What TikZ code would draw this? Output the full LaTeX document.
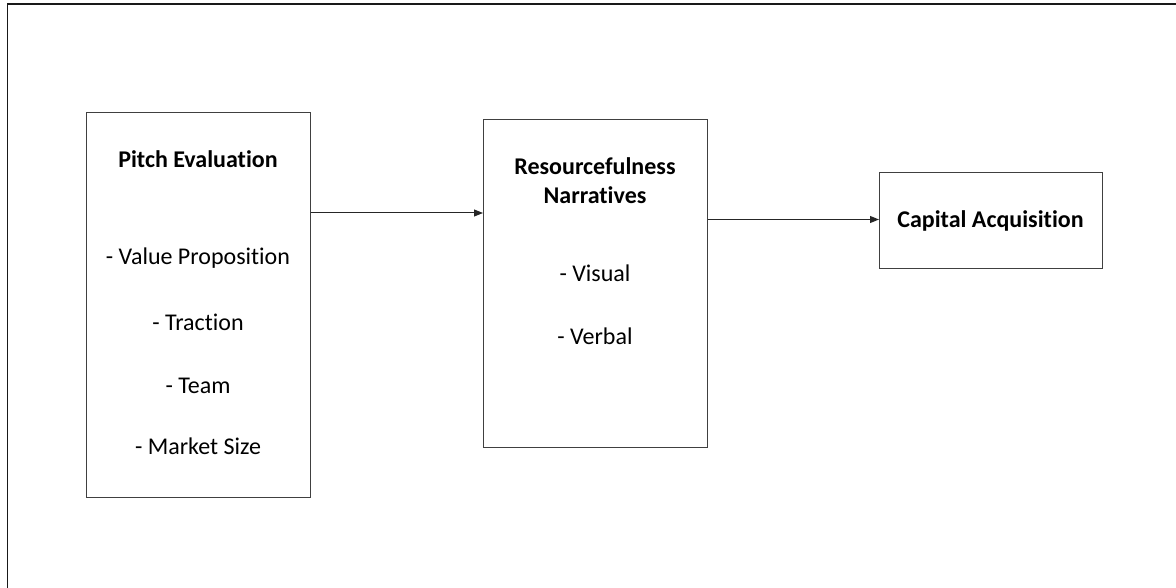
\documentclass[tikz,border=0pt]{standalone}
\usepackage{fontspec}
\setmainfont{Carlito}[RawFeature=-liga]
\usetikzlibrary{arrows.meta}
\begin{document}
\begin{tikzpicture}[x=1pt,y=-1pt,
  box/.style={draw=black!75,line width=1pt,fill=none,inner sep=0pt,anchor=north west},
  lbl/.style={anchor=base,inner sep=0pt,font=\fontsize{24}{28}\selectfont},
  hd/.style={lbl,font=\fontsize{24}{28}\selectfont\bfseries},
  arr/.style={draw=black!85,line width=1pt,-{Triangle[length=9pt,width=7pt]}},
  frame/.style={draw=black!90,line width=1.2pt}]
\useasboundingbox (0,0) rectangle (1176,588);
\coordinate (fl) at (7.5,588);
\coordinate (ft) at (7.5,4);
\coordinate (fr) at (1176,4);
\draw[frame] (fl) -- (ft) -- (fr);
% boxes
\node[box,minimum width=224pt,minimum height=385pt] (b1) at (85.5,112) {};
\node[box,minimum width=224pt,minimum height=328pt] (b2) at (483,119) {};
\node[box,minimum width=223pt,minimum height=96pt] (b3) at (879,172) {};
% texts
\node[hd] (t1) at (198,167.5) {Pitch Evaluation};
\node[lbl] (t2) at (198,264.5) {- Value Proposition};
\node[lbl] (t3) at (198,330.5) {- Traction};
\node[lbl] (t4) at (198,393.5) {- Team};
\node[lbl] (t5) at (198,454.5) {- Market Size};
\node[hd] (r1) at (595,174.5) {Resourcefulness};
\node[hd] (r2) at (595,203.5) {Narratives};
\node[lbl] (r3) at (595,281.5) {- Visual};
\node[lbl] (r4) at (595,344.5) {- Verbal};
\node[hd] (c1) at (990.5,227.5) {Capital Acquisition};
% arrows
\coordinate (a1) at (0,213);
\coordinate (a2) at (0,219.5);
\draw[arr] (b1.east |- a1) -- (b2.west |- a1);
\draw[arr] (b2.east |- a2) -- (b3.west |- a2);
\end{tikzpicture}
\end{document}
